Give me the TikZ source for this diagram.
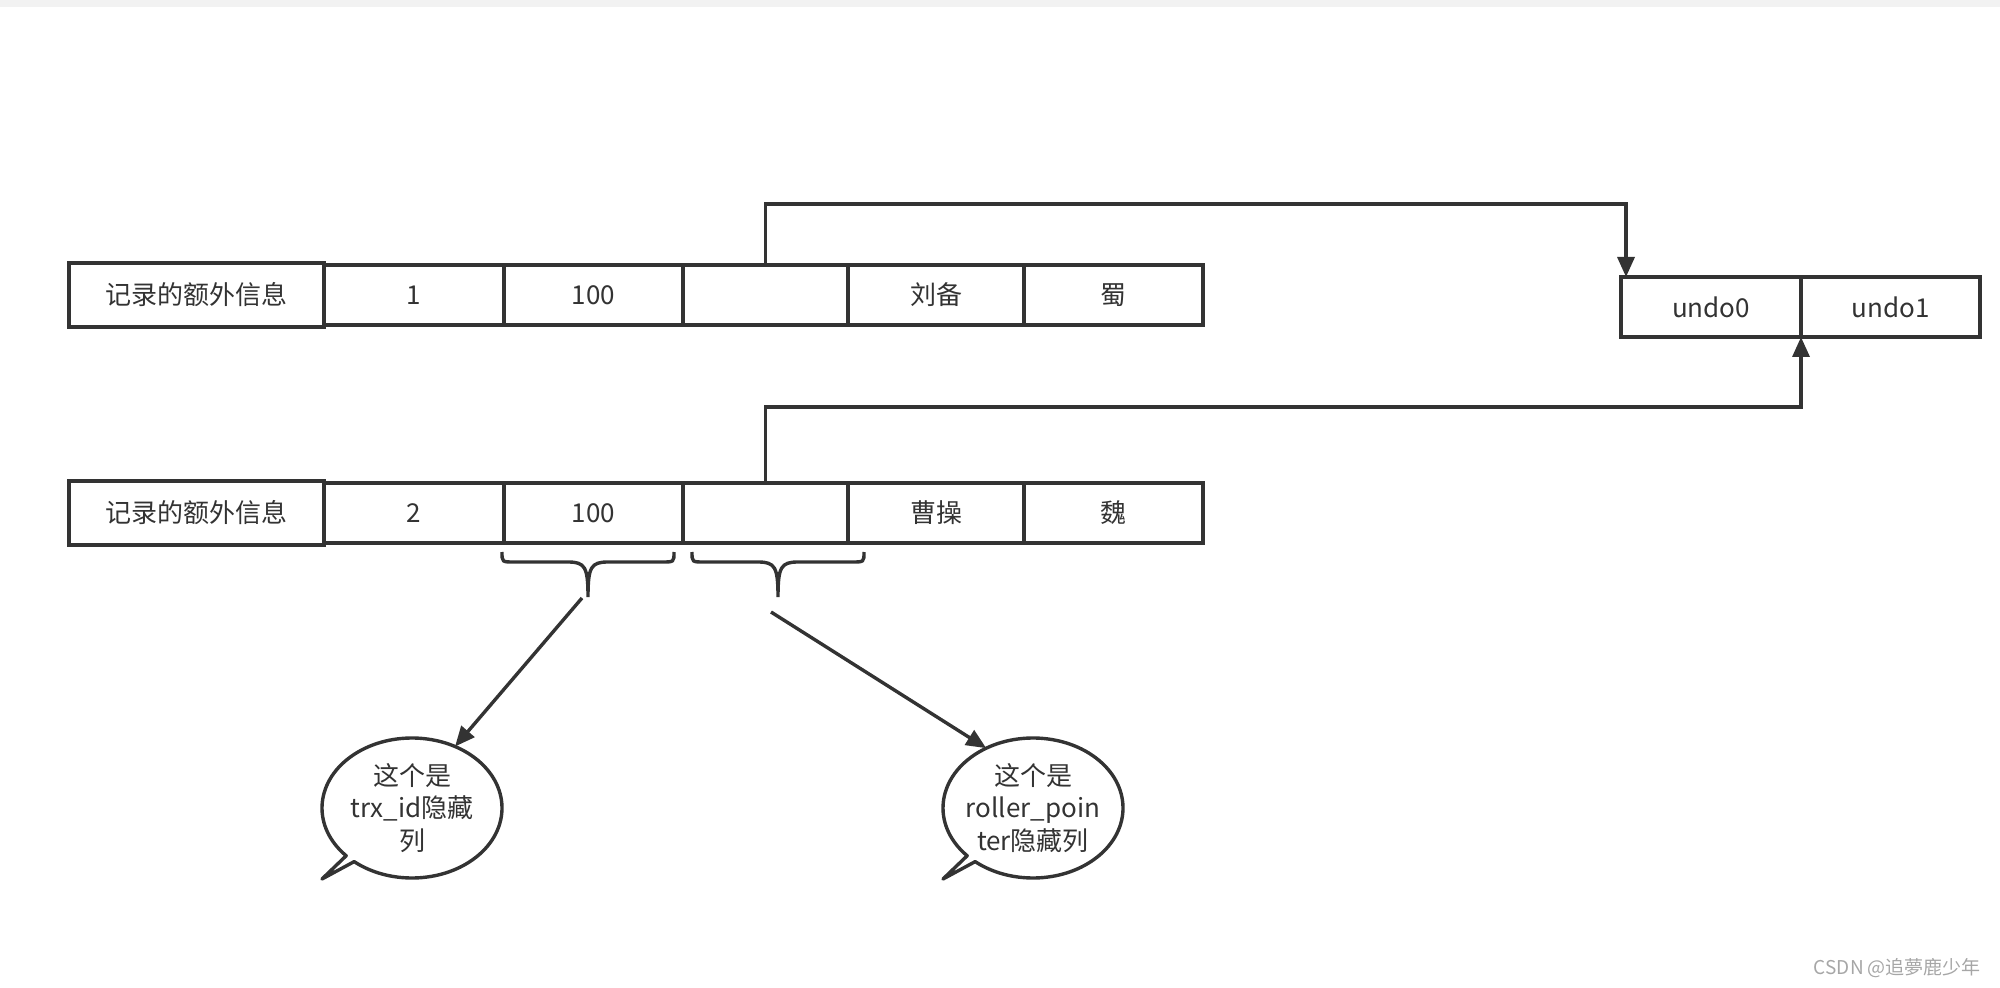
\documentclass[tikz,border=0pt]{standalone}
\usepackage{fontspec}
\setmainfont{Noto Sans CJK SC}
\usetikzlibrary{arrows.meta,shapes.geometric}
\definecolor{ink}{HTML}{333333}
\definecolor{wmcol}{HTML}{A6A6A6}
\definecolor{band}{HTML}{F2F2F2}
\begin{document}
\begin{tikzpicture}[x=0.5pt,y=-0.5pt,
  cell/.style={draw=ink, line width=2pt, minimum height=30pt, inner sep=0pt, outer sep=0pt,
    text=ink, font=\fontsize{13}{15}\selectfont},
  conn/.style={draw=ink, line width=1.7pt},
  arr/.style={conn, -{Triangle[length=10pt,width=8.5pt]}},
  bubble/.style={ellipse, minimum width=90pt, minimum height=70pt, inner sep=0pt, outer sep=0pt},
  btext/.style={text=ink, align=center, font=\fontsize{13}{16.25}\selectfont},
  wmark/.style={text=wmcol, font=\fontsize{9.5}{11}\selectfont},
  curlyb/.pic={
    \draw[conn] (-86,0) .. controls (-86,10) .. (-74,10) -- (-20,10)
      .. controls (-3,10) and (0,15) .. (0,45)
      .. controls (0,15) and (3,10) .. (20,10) -- (74,10)
      .. controls (86,10) .. (86,0);
  }]
\useasboundingbox (0,0) rectangle (2000,988);
\fill[band] (0,0) rectangle (2000,7);

% row 1
\node[cell, minimum width=90pt]   (r1c2) at (414,295)    {1};
\node[cell, minimum width=89.5pt] (r1c3) at (593.5,295)  {100};
\node[cell, minimum width=82.5pt] (r1c4) at (765.5,295)  {};
\node[cell, minimum width=88pt]   (r1c5) at (936,295)    {刘备};
\node[cell, minimum width=89.5pt] (r1c6) at (1113.5,295) {蜀};
\node[cell, minimum width=127.5pt, minimum height=32pt] (r1c1) at (196.5,295) {记录的额外信息};

% row 2
\node[cell, minimum width=90pt]   (r2c2) at (414,513)    {2};
\node[cell, minimum width=89.5pt] (r2c3) at (593.5,513)  {100};
\node[cell, minimum width=82.5pt] (r2c4) at (765.5,513)  {};
\node[cell, minimum width=88pt]   (r2c5) at (936,513)    {曹操};
\node[cell, minimum width=89.5pt] (r2c6) at (1113.5,513) {魏};
\node[cell, minimum width=127.5pt, minimum height=32pt] (r2c1) at (196.5,513) {记录的额外信息};

% undo log
\node[cell, minimum width=90pt]   (u0) at (1711,307)   {undo0};
\node[cell, minimum width=89.5pt] (u1) at (1890.5,307) {undo1};

% roll pointers
\draw[arr] (r1c4.north) -- ++(0,-61) -| ([xshift=2.5pt]u0.north west);
\draw[arr] (r2c4.north) -- ++(0,-76) -| (u0.south east);

% braces
\pic at (588,552) {curlyb};
\pic at (778,552) {curlyb};
\coordinate (a1s) at (582,598);
\coordinate (a2s) at (771,612);

% callouts
\node[bubble, label={[btext]center:{这个是\\trx\_id隐藏\\列}}] (c1) at (412,808) {};
\node[bubble, label={[btext]center:{这个是\\roller\_poin\\ter隐藏列}}] (c2) at (1033,808) {};
\draw[conn, line join=round] (c1.center) ++(137:90 and 70)
  arc[start angle=137, end angle=490, x radius=90, y radius=70] -- (322,879) -- cycle;
\draw[conn, line join=round] (c2.center) ++(137:90 and 70)
  arc[start angle=137, end angle=490, x radius=90, y radius=70] -- (943,879) -- cycle;

\draw[arr] (a1s) -- (c1.55);
\draw[arr] (a2s) -- (c2.128);

\node[wmark, anchor=east] (wm) at (1988,968) {CSDN @追夢鹿少年};
\end{tikzpicture}
\end{document}
